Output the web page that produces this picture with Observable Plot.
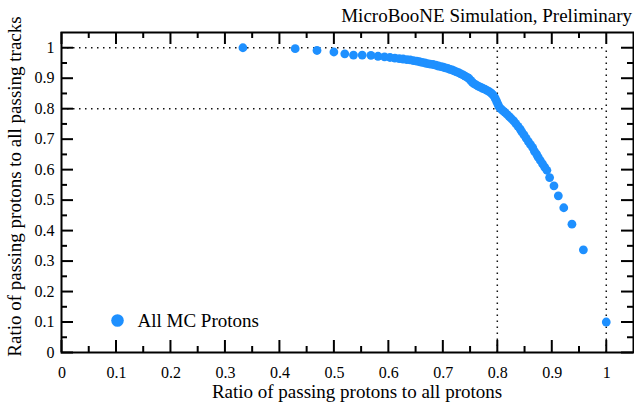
<!DOCTYPE html>
<html><head><meta charset="utf-8">
<script src="https://cdn.jsdelivr.net/npm/d3@7"></script>
<script src="https://cdn.jsdelivr.net/npm/@observablehq/plot@0.6"></script>
<style>html,body{margin:0;padding:0;background:#fff}</style>
</head><body><div id="chart"></div>
<script>
// Ratio of passing protons to all protons (x) and to all passing tracks (y)
const xValues = [0.333,0.429,0.469,0.500,0.520,0.536,0.552,0.568,0.581,0.593,
0.603,0.612,0.620,0.627,0.634,0.640,0.646,0.652,0.657,0.662,
0.667,0.672,0.677,0.682,0.687,0.692,0.697,0.701,0.705,0.709,
0.713,0.717,0.721,0.725,0.729,0.733,0.737,0.741,0.745,0.748,
0.751,0.754,0.757,0.761,0.765,0.769,0.773,0.777,0.781,0.785,
0.789,0.792,0.795,0.797,0.799,0.801,0.803,0.806,0.810,0.814,
0.818,0.822,0.826,0.830,0.834,0.838,0.842,0.845,0.849,0.853,
0.857,0.861,0.865,0.868,0.872,0.875,0.879,0.883,0.887,0.891,
0.896,0.904,0.912,0.922,0.937,0.958,1.000];
const yValues = [1.000,0.997,0.991,0.986,0.980,0.976,0.976,0.975,0.972,0.970,
0.968,0.966,0.964,0.963,0.961,0.960,0.958,0.956,0.954,0.952,
0.950,0.948,0.946,0.945,0.943,0.940,0.938,0.936,0.934,0.932,
0.929,0.927,0.924,0.921,0.918,0.914,0.911,0.907,0.903,0.899,
0.893,0.887,0.882,0.878,0.874,0.871,0.867,0.864,0.860,0.856,
0.851,0.845,0.838,0.831,0.823,0.815,0.807,0.800,0.794,0.788,
0.781,0.774,0.767,0.760,0.751,0.742,0.733,0.724,0.714,0.703,
0.692,0.682,0.672,0.661,0.651,0.641,0.630,0.619,0.608,0.598,
0.574,0.547,0.514,0.475,0.421,0.337,0.100];

const majorTicks = [0,0.1,0.2,0.3,0.4,0.5,0.6,0.7,0.8,0.9,1];
const majorTickLabels = ["0","0.1","0.2","0.3","0.4","0.5","0.6","0.7","0.8","0.9","1"];
const minorTicks = [0.05,0.15,0.25,0.35,0.45,0.55,0.65,0.75,0.85,0.95];
const refLinesX = [0.8,1];
const refLinesY = [0.8,1];
const seriesName = "All MC Protons";
const titleText = "MicroBooNE Simulation, Preliminary";
const xLabel = "Ratio of passing protons to all protons";
const yLabel = "Ratio of passing protons to all passing tracks";

const W = 634, H = 402, mL = 61, mR = 1, mT = 32, mB = 50;
const fw = W - mL - mR, fh = H - mT - mB;
const blue = "#1E90FF";
const font = "'Liberation Serif', serif";
const data = xValues.map((x, i) => ({x, y: yValues[i]}));
const lab = d => majorTickLabels[majorTicks.findIndex(t => Math.abs(t - d) < 1e-9)];
const dotted = {stroke: "#111", strokeWidth: 1.5, strokeDasharray: "1.5,4.5"};
const tk = {stroke: "black", strokeWidth: 2};

const chart = Plot.plot({
  width: W, height: H,
  marginLeft: mL, marginRight: mR, marginTop: mT, marginBottom: mB,
  style: {fontFamily: font, fontSize: "16px", background: "white", color: "black", overflow: "visible"},
  x: {domain: [0, 1.05]},
  y: {domain: [0, 1.05]},
  marks: [
    Plot.ruleY(refLinesY, {y: d => d, x1: 0, x2: 1, ...dotted}),
    Plot.ruleX(refLinesX, {x: d => d, y1: 0, y2: 1, ...dotted}),
    Plot.dot(data, {x: "x", y: "y", r: 4.4, fill: blue, stroke: "none"}),
    // ticks (inward, mirrored on all sides)
    Plot.ruleX(majorTicks, {x: d => d, insetTop: fh - 12, ...tk}),
    Plot.ruleX(minorTicks, {x: d => d, insetTop: fh - 6, ...tk}),
    Plot.ruleX(majorTicks, {x: d => d, insetBottom: fh - 12, ...tk}),
    Plot.ruleX(minorTicks, {x: d => d, insetBottom: fh - 6, ...tk}),
    Plot.ruleY(majorTicks, {y: d => d, insetRight: fw - 12, ...tk}),
    Plot.ruleY(minorTicks, {y: d => d, insetRight: fw - 6, ...tk}),
    Plot.ruleY(majorTicks, {y: d => d, insetLeft: fw - 12, ...tk}),
    Plot.ruleY(minorTicks, {y: d => d, insetLeft: fw - 6, ...tk}),
    Plot.frame({stroke: "black", strokeWidth: 2}),
    Plot.axisX({ticks: majorTicks, tickSize: 0, tickPadding: 14, tickFormat: lab, label: null, fontSize: 16, dx: 0.5, style: "letter-spacing:1px"}),
    Plot.axisY({ticks: majorTicks, tickSize: 0, tickPadding: 7, tickFormat: lab, label: null, fontSize: 16, style: "letter-spacing:1px"}),
    // legend
    Plot.dot([seriesName], {frameAnchor: "bottom-left", dx: 56, dy: -32, r: 6.3, fill: blue}),
    Plot.text([seriesName], {text: d => d, frameAnchor: "bottom-left", dx: 76, dy: -32, textAnchor: "start", lineAnchor: "middle", fontSize: 19, style: "letter-spacing:0.5px"}),
    // title and axis labels
    Plot.text([titleText], {text: d => d, frameAnchor: "top-right", dx: -1.5, dy: -16.5, textAnchor: "end", lineAnchor: "middle", fontSize: 19, style: "letter-spacing:0.5px"}),
    Plot.text([xLabel], {text: d => d, frameAnchor: "bottom", dx: 9.5, dy: 39, textAnchor: "middle", lineAnchor: "middle", fontSize: 19, style: "letter-spacing:1.1px"}),
    Plot.text([yLabel], {text: d => d, frameAnchor: "left", dx: -46.5, dy: -6, rotate: -90, textAnchor: "middle", lineAnchor: "middle", fontSize: 19, style: "letter-spacing:0.2px"})
  ]
});
document.getElementById("chart").appendChild(chart);
</script>
</body></html>
